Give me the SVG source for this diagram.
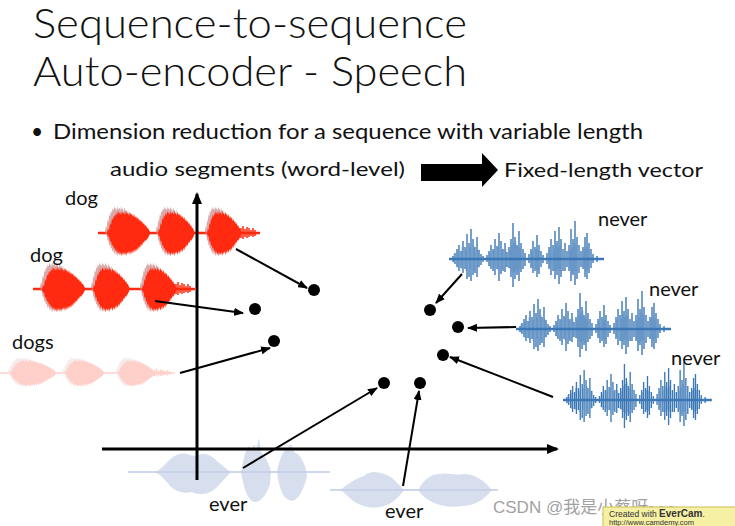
<svg xmlns="http://www.w3.org/2000/svg" xmlns:xlink="http://www.w3.org/1999/xlink" width="735" height="526" viewBox="0 0 735 526">
<style>
  .t { font-family: Lato, "Open Sans", "Liberation Sans", sans-serif; fill: #111; }
  .title { font-size: 41px; font-weight: 300; }
  .body { font-size: 21px; }
  .lbl { font-size: 20px; }
  .conn { stroke: #000; stroke-width: 2; fill: none; marker-end: url(#ah); }
  .axis { stroke: #000; stroke-width: 3; fill: none; marker-end: url(#axh); }
  .dot { fill: #000; }
  .red { fill: #ff2a0f; }
  .ghost { fill: #c98585; opacity: 0.7; }
  .ever { fill: #c6d1e8; opacity: 0.7; }
</style>
<defs>
  <marker id="ah" markerUnits="userSpaceOnUse" markerWidth="10" markerHeight="8" refX="9" refY="4" orient="auto">
    <path d="M0,0 L10,4 L0,8 Z" fill="#000"/>
  </marker>
  <marker id="axh" markerUnits="userSpaceOnUse" markerWidth="12" markerHeight="10" refX="10" refY="5" orient="auto">
    <path d="M0,0 L12,5 L0,10 Z" fill="#000"/>
  </marker>
  <path id="rb" d="M0,0 L1,-4 L2,-3 L3,-10 L4,-8 L5,-15 L6,-13 L7,-18 L8,-16 L9,-20 L10,-18 L11,-22 L12,-19 L13,-21 L14,-18 L15,-22 L16,-19 L17,-21 L18,-18 L19,-22 L20,-19 L21,-20 L22,-17 L23,-21 L24,-18 L25,-19 L26,-16 L27,-19 L28,-15 L29,-17 L30,-14 L31,-16 L32,-12 L33,-14 L34,-11 L35,-12 L36,-9 L37,-10 L38,-7 L39,-8 L40,-5 L41,-5 L42,-3 L43,-1 L43,1 L42,3 L41,5 L40,6 L39,8 L38,7 L37,10 L36,9 L35,13 L34,11 L33,15 L32,13 L31,17 L30,15 L29,19 L28,16 L27,20 L26,17 L25,21 L24,18 L23,22 L22,18 L21,21 L20,19 L19,23 L18,19 L17,22 L16,19 L15,23 L14,19 L13,22 L12,18 L11,21 L10,17 L9,19 L8,15 L7,16 L6,12 L5,13 L4,8 L3,9 L2,3 L1,4 Z"/>
  <g id="rwave">
    <path d="M0,0 H162" stroke="#ff2a0f" stroke-width="2.5"/>
    <use xlink:href="#rb" class="ghost" transform="translate(7,-2) scale(0.85,1.12)"/>
    <use xlink:href="#rb" class="ghost" transform="translate(58,-2) scale(0.75,1.12)"/>
    <use xlink:href="#rb" class="ghost" transform="translate(107,-2) scale(0.7,1.12)"/>
    <use xlink:href="#rb" class="red" transform="translate(9,0)"/>
    <use xlink:href="#rb" class="red" transform="translate(60,0) scale(0.85,1)"/>
    <use xlink:href="#rb" class="red" transform="translate(109,0) scale(0.8,1)"/>
    <path d="M143,-5 V5 M145,-7 V6 M147,-4 V4 M149,-6 V5 M151,-5 V4 M153,-3 V3 M155,-5 V4 M157,-3 V3" stroke="#ff2a0f" stroke-width="1.5"/>
  </g>
  <g id="bwave" stroke="#3c78b6" fill="none">
    <path d="M0,0 H155" stroke-width="2.5"/>
    <path stroke-width="1.4" d="M4,-3V3 M6,-6V5 M8,-10V8 M10,-14V12 M12,-8V9 M14,-18V14 M16,-12V10 M18,-25V20 M20,-16V18 M22,-30V22 M24,-20V16 M26,-12V14 M28,-22V18 M30,-9V8 M32,-5V6 M34,-3V3 M38,-4V3 M40,-8V7 M42,-14V10 M44,-10V12 M46,-20V16 M48,-13V10 M50,-26V22 M52,-18V15 M54,-10V12 M56,-16V13 M58,-7V8 M60,-12V9 M62,-20V18 M64,-36V28 M66,-22V20 M68,-14V16 M70,-28V22 M72,-16V13 M74,-10V10 M76,-6V7 M80,-5V4 M82,-10V9 M84,-18V14 M86,-12V12 M88,-24V18 M90,-14V15 M92,-8V8 M94,-4V4 M98,-6V5 M100,-12V10 M102,-20V16 M104,-14V12 M106,-28V20 M108,-18V16 M110,-32V25 M112,-20V18 M114,-10V12 M116,-16V12 M118,-8V8 M120,-14V12 M122,-30V22 M124,-20V16 M126,-38V26 M128,-22V20 M130,-14V14 M132,-8V8 M134,-12V10 M136,-22V18 M138,-26V20 M140,-16V14 M142,-10V9 M144,-5V4 M148,-3V3"/>
    <path stroke-width="0.8" opacity="0.6" d="M5,-5V4 M9,-7V9 M13,-12V10 M17,-9V12 M21,-12V10 M25,-14V12 M29,-10V9 M41,-6V8 M45,-9V9 M49,-12V11 M53,-9V10 M57,-10V8 M61,-9V10 M63,-14V12 M65,-16V14 M67,-18V12 M69,-12V14 M71,-10V10 M83,-8V9 M87,-10V10 M89,-9V11 M101,-9V8 M105,-10V12 M107,-14V12 M109,-12V10 M111,-14V12 M121,-9V10 M123,-12V14 M125,-16V12 M127,-14V12 M135,-10V9 M137,-12V12 M139,-10V10"/>
  </g>
</defs>

<rect width="735" height="526" fill="#fff"/>

<!-- Title and headers -->
<g id="title">
  <text class="t title" x="33" y="38" textLength="434" lengthAdjust="spacingAndGlyphs">Sequence-to-sequence</text>
  <text class="t title" x="33" y="86" textLength="434" lengthAdjust="spacingAndGlyphs">Auto-encoder - Speech</text>
</g>
<g id="bullet">
  <text class="t body" x="31" y="139">•</text>
  <text class="t body" x="53" y="139" textLength="590" lengthAdjust="spacingAndGlyphs">Dimension reduction for a sequence with variable length</text>
</g>
<g id="header">
  <text class="t lbl" x="110" y="176" textLength="295" lengthAdjust="spacingAndGlyphs">audio segments (word-level)</text>
  <path d="M421,164 H482 V153 L498,170 L482,187 V181 H421 Z" fill="#000"/>
  <text class="t lbl" x="504" y="177" textLength="199" lengthAdjust="spacingAndGlyphs">Fixed-length vector</text>
</g>

<!-- Waveforms -->
<g id="wave-dog1" transform="translate(98,233)"><use xlink:href="#rwave"/></g>
<g id="wave-dog2" transform="translate(33,289)"><use xlink:href="#rwave"/></g>
<g id="wave-dogs" transform="translate(0,373) scale(1.08,0.6)" opacity="0.22"><use xlink:href="#rwave"/></g>

<g id="wave-never1" transform="translate(449,259)"><use xlink:href="#bwave"/></g>
<g id="wave-never2" transform="translate(516,329)"><use xlink:href="#bwave"/></g>
<g id="wave-never3" transform="translate(563,400) scale(0.96,1.0)"><use xlink:href="#bwave"/></g>

<g id="wave-ever1">
  <path d="M128,472 H330" stroke="#cdd7ec" stroke-width="2"/>
  <path class="ever" d="M155,472 C165,468 170,455 180,454 C188,452 192,458 198,455 C206,452 212,456 218,462 C224,466 227,470 231,472 C227,476 222,482 216,488 C210,494 200,496 192,492 C184,494 176,492 170,486 C165,480 162,476 155,472 Z"/>
  <path class="ever" d="M241,472 C243,462 245,450 249,446 L251,452 L254,444 L256,450 L259,438 L261,452 C265,456 268,462 270,468 L271,472 L270,484 C266,496 260,503 254,502 C248,500 244,490 241,472 Z"/>
  <path class="ever" d="M277,472 C279,460 283,450 288,448 L291,444 L294,452 C300,454 304,462 306,470 L307,476 C304,490 298,500 292,501 C284,500 279,490 277,472 Z"/>
</g>
<g id="wave-ever2">
  <path d="M330,490 H498" stroke="#cdd7ec" stroke-width="2"/>
  <path class="ever" d="M340,490 C348,484 356,478 364,476 C370,470 378,472 384,474 C392,476 398,484 404,490 C398,498 390,506 380,507 C370,509 360,506 352,500 C347,496 344,492 340,490 Z"/>
  <path class="ever" d="M418,490 C424,480 430,474 440,474 C448,472 456,476 464,474 C474,474 484,480 492,490 C484,500 474,506 462,506 C452,508 440,506 432,502 C424,498 421,494 418,490 Z"/>
</g>

<!-- Points -->
<g id="points">
  <circle class="dot" cx="314" cy="290" r="6"/>
  <circle class="dot" cx="255" cy="309" r="6"/>
  <circle class="dot" cx="274" cy="341" r="6"/>
  <circle class="dot" cx="430" cy="310" r="6"/>
  <circle class="dot" cx="458" cy="327" r="6"/>
  <circle class="dot" cx="443" cy="355" r="6"/>
  <circle class="dot" cx="384" cy="383" r="6"/>
  <circle class="dot" cx="420" cy="383" r="6"/>
</g>

<!-- Connectors -->
<g id="connectors">
  <path class="axis" d="M197,480 V194"/>
  <path class="axis" d="M102,449 H557"/>
  <path class="conn" d="M236,249 L307,288"/>
  <path class="conn" d="M155,301 L243,313"/>
  <path class="conn" d="M180,373 L270,348"/>
  <path class="conn" d="M462,274 L436,303"/>
  <path class="conn" d="M516,327 L468,328"/>
  <path class="conn" d="M553,397 L450,357"/>
  <path class="conn" d="M243,468 L377,388"/>
  <path class="conn" d="M403,486 L419,391"/>
</g>

<!-- Labels -->
<g id="labels">
  <text class="t lbl" x="65" y="205">dog</text>
  <text class="t lbl" x="30" y="262">dog</text>
  <text class="t lbl" x="12" y="349">dogs</text>
  <text class="t lbl" x="598" y="226">never</text>
  <text class="t lbl" x="649" y="296">never</text>
  <text class="t lbl" x="671" y="365">never</text>
  <text class="t lbl" x="209" y="511">ever</text>
  <text class="t lbl" x="385" y="518">ever</text>
</g>

<!-- Watermarks -->
<g id="watermark">
  <text x="493" y="513" font-family="'Liberation Sans', 'Noto Sans CJK SC', sans-serif" font-size="17" fill="#8a8a8a" opacity="0.8">CSDN @我是小蔡呀~~~</text>
  <rect x="603" y="507" width="134" height="24" fill="#f6f0a4" stroke="#cbbd55" stroke-width="1"/>
  <text x="609" y="517" font-family="'Liberation Sans', sans-serif" font-size="8.5" fill="#333">Created with <tspan font-weight="bold" font-size="10">EverCam</tspan>.</text>
  <text x="609" y="525" font-family="'Liberation Sans', sans-serif" font-size="7.5" fill="#333">http://www.camdemy.com</text>
</g>
</svg>
